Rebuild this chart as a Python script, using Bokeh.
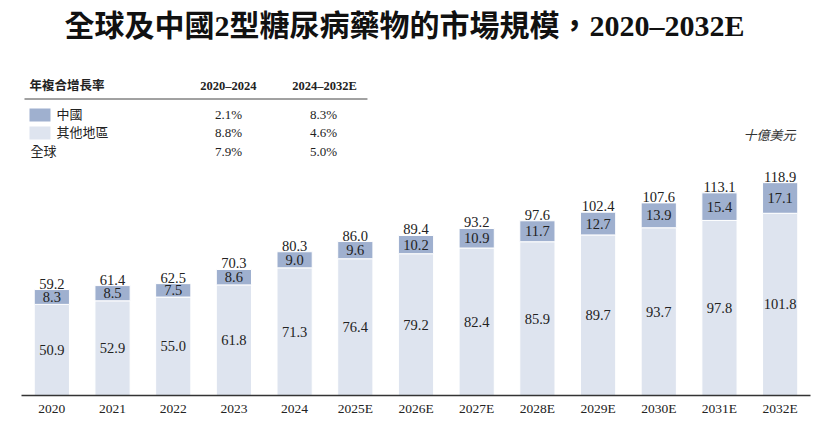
from bokeh.plotting import figure
from bokeh.models import ColumnDataSource, Label, Range1d, FactorRange
from bokeh.core.properties import value
from bokeh.embed import file_html
from bokeh.resources import INLINE

years = ["2020", "2021", "2022", "2023", "2024", "2025E", "2026E", "2027E",
         "2028E", "2029E", "2030E", "2031E", "2032E"]
china = [8.3, 8.5, 7.5, 8.6, 9.0, 9.6, 10.2, 10.9, 11.7, 12.7, 13.9, 15.4, 17.1]
other = [50.9, 52.9, 55.0, 61.8, 71.3, 76.4, 79.2, 82.4, 85.9, 89.7, 93.7, 97.8, 101.8]
totals = [59.2, 61.4, 62.5, 70.3, 80.3, 86.0, 89.4, 93.2, 97.6, 102.4, 107.6, 113.1, 118.9]

title_text = "全球及中國2型糖尿病藥物的市場規模，2020–2032E"
unit_text = "十億美元"
cagr_header = "年複合增長率"
cagr_periods = ["2020–2024", "2024–2032E"]
cagr_rows = ["中國", "其他地區", "全球"]
cagr_first = ["2.1%", "8.8%", "7.9%"]
cagr_second = ["8.3%", "4.6%", "5.0%"]

C_CHINA = "#9fb0cf"
C_OTHER = "#dee4ef"
TXT = "#222222"
SERIF = "'Liberation Serif', 'Times New Roman', 'Noto Sans CJK TC', serif"

W, H = 831, 422
p = figure(width=W, height=H, x_range=FactorRange(*years, range_padding=0),
           y_range=Range1d(0, 395 / 1.79), output_backend="svg", toolbar_location=None,
           min_border_left=21, min_border_right=21, min_border_top=0, min_border_bottom=27)
p.outline_line_color = None
p.grid.visible = False
p.yaxis.visible = False
p.background_fill_color = "white"

xa = p.xaxis[0]
xa.axis_line_color = "#333333"
xa.axis_line_width = 1.5
xa.major_tick_line_color = None
xa.minor_tick_line_color = None
xa.major_tick_out = 0
xa.major_tick_in = 0
xa.major_label_standoff = 5
xa.major_label_text_font = SERIF
xa.major_label_text_font_size = "13.5px"
xa.major_label_text_color = TXT

src = ColumnDataSource(dict(
    x=years, china=china, other=other, totals=totals,
    total_lbl=[f"{v:.1f}" for v in totals],
    china_lbl=[f"{v:.1f}" for v in china],
    other_lbl=[f"{v:.1f}" for v in other],
    top=[a + b for a, b in zip(china, other)],
    china_mid=[o + c / 2 for o, c in zip(other, china)],
    other_mid=[o / 2 for o in other],
))

p.vbar(x="x", top="other", bottom=0, width=0.58, source=src,
       fill_color=C_OTHER, line_color="white", line_width=1)
p.vbar(x="x", top="top", bottom="other", width=0.58, source=src,
       fill_color=C_CHINA, line_color="white", line_width=1)

common = dict(text_font=value(SERIF), text_font_size="14.5px", text_color=TXT,
              text_align="center", source=src)
p.text(x="x", y="top", text="total_lbl", text_baseline="bottom", y_offset=-1, **common)
p.text(x="x", y="china_mid", text="china_lbl", text_baseline="middle", **common)
p.text(x="x", y="other_mid", text="other_lbl", text_baseline="middle", **common)

# pixel helpers (image coords -> data coords) for annotation placement
def dx(px):
    return (px - 21) / 60.7

def dy(py):
    return (395 - py) / 1.79

def lab(x, y, t, size="13px", align="left", bold=False, italic=False, color=TXT):
    style = "bold" if bold else ("italic" if italic else "normal")
    p.add_layout(Label(x=dx(x), y=dy(y), text=t, text_font=SERIF, text_font_size=size,
                       text_align=align, text_baseline="middle", text_color=color,
                       text_font_style=style))

lab(404, 25, title_text, size="30px", align="center", bold=True, color="#111111")
lab(795, 135, unit_text, size="13px", align="right", italic=True, color="#333333")

lab(29, 85, cagr_header, size="12.5px", bold=True)
lab(228, 85, cagr_periods[0], size="12.5px", align="center", bold=True)
lab(324, 85, cagr_periods[1], size="12.5px", align="center", bold=True)
p.line(x=[dx(24), dx(367)], y=[dy(98.5), dy(98.5)], line_color="#444444", line_width=1)

row_y = [114, 132, 151]
p.quad(left=[dx(29)], right=[dx(50)], top=[dy(108)], bottom=[dy(121)],
       fill_color=C_CHINA, line_color=None)
p.quad(left=[dx(29)], right=[dx(50)], top=[dy(126)], bottom=[dy(139)],
       fill_color=C_OTHER, line_color=None)
row_x = [56, 56, 30]
for i in range(3):
    lab(row_x[i], row_y[i], cagr_rows[i], size="13px")
    lab(228, row_y[i], cagr_first[i], size="13px", align="center")
    lab(323, row_y[i], cagr_second[i], size="13px", align="center")

open("out.html", "w").write(file_html(p, INLINE))
